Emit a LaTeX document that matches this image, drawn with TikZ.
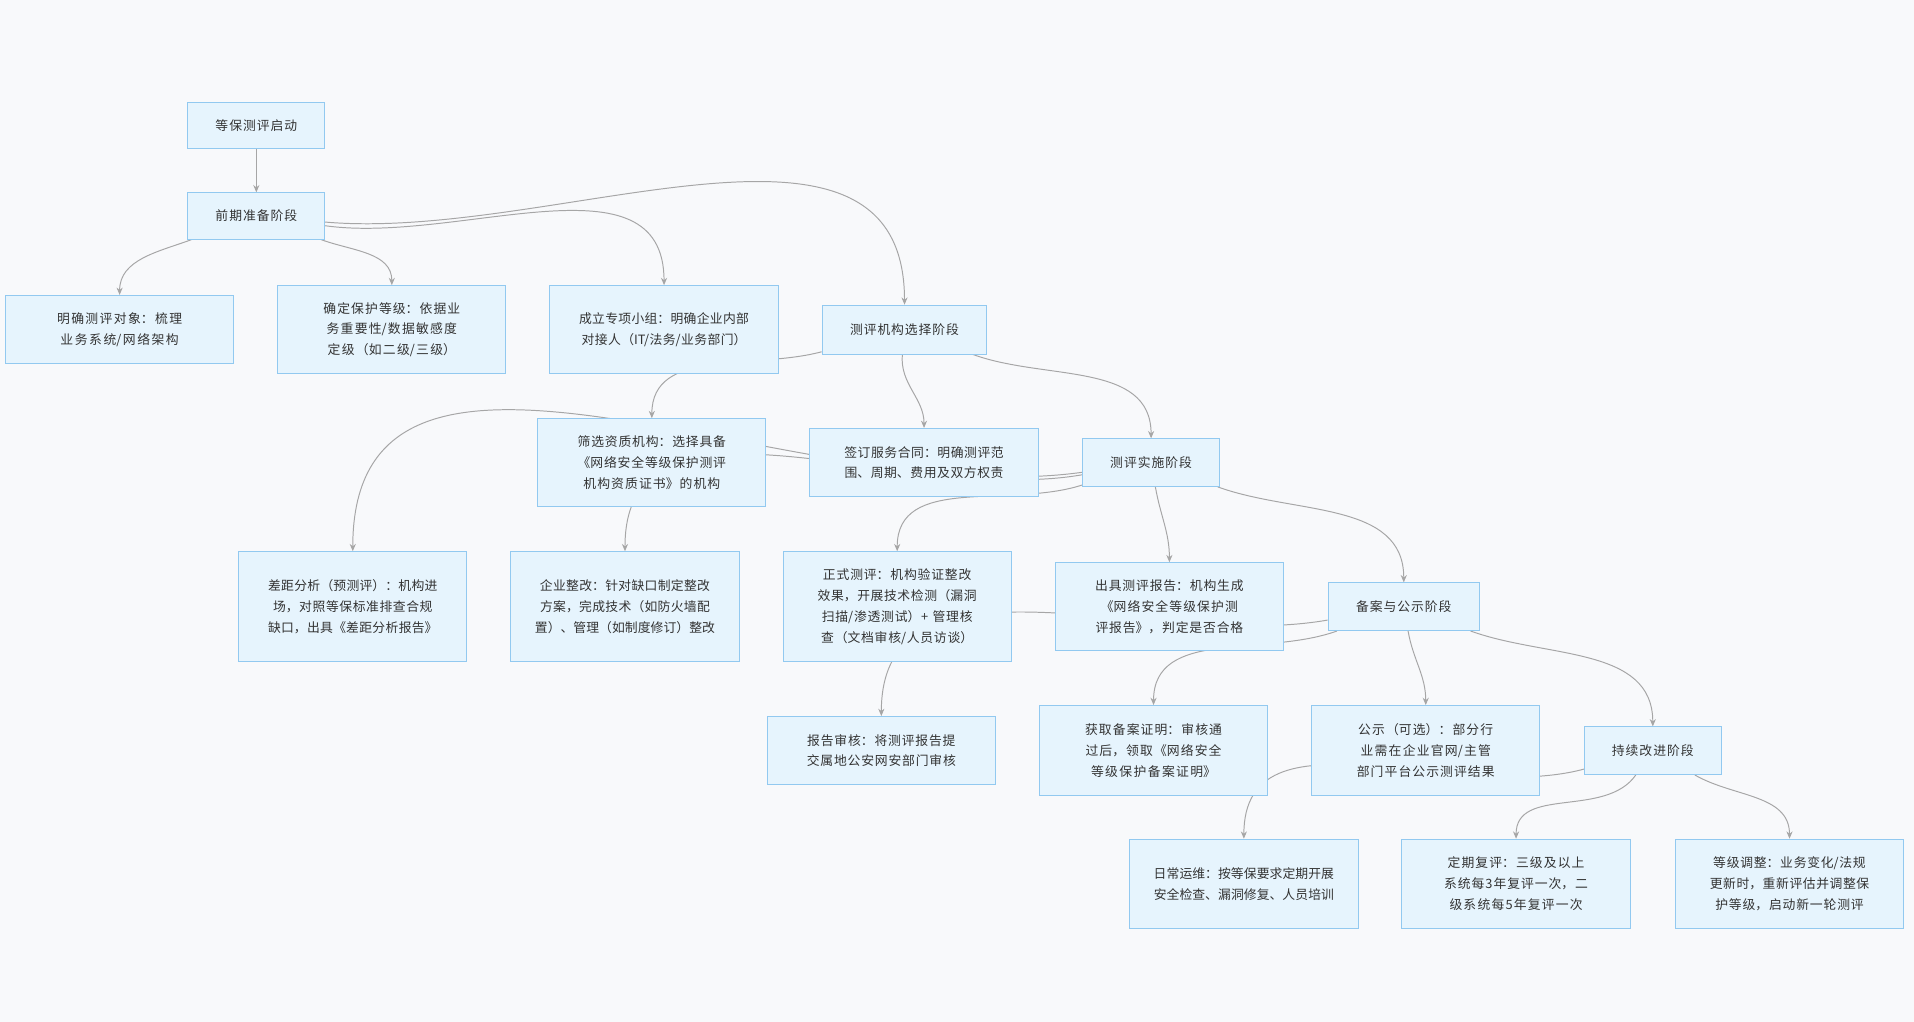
\documentclass[tikz,border=0pt]{standalone}
\usepackage{fontspec}
\setmainfont{Noto Sans CJK SC}
\XeTeXlinebreaklocale "zh"
\XeTeXlinebreakskip = 0pt plus 1pt
\usetikzlibrary{arrows.meta}
\pgfdeclarelayer{back}
\pgfdeclarelayer{bg}
\pgfsetlayers{back,bg,main}
\definecolor{bgc}{HTML}{F8F9FB}
\definecolor{boxf}{HTML}{E6F4FD}
\definecolor{boxd}{HTML}{92C9F0}
\definecolor{txt}{HTML}{333333}
\definecolor{edg}{HTML}{A6A6A6}
\tikzset{
 bx/.style={draw=boxd,fill=boxf,line width=0.8pt,text=txt,align=center,font=\fontsize{10.5}{17}\selectfont,inner sep=0pt},
 edge/.style={draw=edg,line width=0.8pt,-{Stealth[length=6pt,width=5pt]}}
}
\newcommand{\bn}[7]{\node[bx,minimum width=#4pt,minimum height=#5pt,text width=#6pt] (#1) at (#2pt,-#3pt) {#7};}
\begin{document}
\begin{tikzpicture}[x=1pt,y=1pt]
\begin{pgfonlayer}{back}
\fill[bgc] (0,0) rectangle (1568,-837);
\end{pgfonlayer}
\useasboundingbox (0,0) rectangle (1568,-837);
\bn{start}{210}{103}{112}{38}{100}{等保测评启动}
\bn{prep}{210}{177}{112}{38}{100}{前期准备阶段}
\bn{n1}{98}{270}{187}{56}{150}{明确测评对象：梳理业务系统/网络架构}
\bn{n2}{321}{270}{187}{72}{150}{确定保护等级：依据业务重要性/数据敏感度定级（如二级/三级）}
\bn{n3}{544}{270}{187}{72}{150}{成立专项小组：明确企业内部对接人（IT/法务/业务部门）}
\bn{sel}{741}{270}{135}{40}{120}{测评机构选择阶段}
\bn{s1}{534}{379}{187}{72}{150}{筛选资质机构：选择具备《网络安全等级保护测评机构资质证书》的机构}
\bn{s2}{757}{379}{187}{56}{150}{签订服务合同：明确测评范围、周期、费用及双方权责}
\bn{impl}{943}{379}{112}{39}{100}{测评实施阶段}
\bn{i1}{289}{497}{187}{90}{150}{差距分析（预测评）：机构进场，对照等保标准排查合规缺口，出具《差距分析报告》}
\bn{i2}{512}{497}{187}{90}{150}{企业整改：针对缺口制定整改方案，完成技术（如防火墙配置）、管理（如制度修订）整改}
\bn{i3}{735}{497}{187}{90}{150}{正式测评：机构验证整改效果，开展技术检测（漏洞扫描/渗透测试）+ 管理核查（文档审核/人员访谈）}
\bn{i4}{958}{497}{187}{72}{150}{出具测评报告：机构生成《网络安全等级保护测评报告》，判定是否合格}
\bn{rec}{1150}{497}{124}{39}{110}{备案与公示阶段}
\bn{r1}{722}{615}{187}{56}{150}{报告审核：将测评报告提交属地公安网安部门审核}
\bn{r2}{945}{615}{187}{74}{150}{获取备案证明：审核通过后，领取《网络安全等级保护备案证明》}
\bn{r3}{1168}{615}{187}{74}{150}{公示（可选）：部分行业需在企业官网/主管部门平台公示测评结果}
\bn{cont}{1354}{615}{112}{39}{100}{持续改进阶段}
\bn{c1}{1019}{724}{187}{73}{150}{日常运维：按等保要求定期开展安全检查、漏洞修复、人员培训}
\bn{c2}{1242}{724}{187}{73}{150}{定期复评：三级及以上系统每3年复评一次，二级系统每5年复评一次}
\bn{c3}{1466}{724}{187}{73}{150}{等级调整：业务变化/法规更新时，重新评估并调整保护等级，启动新一轮测评}
\begin{pgfonlayer}{bg}
\draw[edge] (start) -- (prep);
\draw[edge] (prep) to[out=200,in=90] (n1.north);
\draw[edge] (prep) to[out=-20,in=90] (n2.north);
\draw[edge] (prep) to[out=-8,in=90] (n3.north);
\draw[edge] (prep) to[out=-5,in=90] (sel.north);
\draw[edge] (sel) to[out=195,in=90] (s1.north);
\draw[edge] (sel) to[out=-95,in=90] (s2.north);
\draw[edge] (sel) to[out=-20,in=90] (impl.north);
\draw[edge] (impl) to[out=188,in=90] (i1.north);
\draw[edge] (impl) to[out=190,in=90] (i2.north);
\draw[edge] (impl) to[out=198,in=90] (i3.north);
\draw[edge] (impl) to[out=-80,in=90] (i4.north);
\draw[edge] (impl) to[out=-20,in=90] (rec.north);
\draw[edge] (rec) to[out=190,in=90] (r1.north);
\draw[edge] (rec) to[out=200,in=90] (r2.north);
\draw[edge] (rec) to[out=-80,in=90] (r3.north);
\draw[edge] (rec) to[out=-20,in=90] (cont.north);
\draw[edge] (cont) to[out=195,in=90] (c1.north);
\draw[edge] (cont) to[out=235,in=90] (c2.north);
\draw[edge] (cont) to[out=-30,in=90] (c3.north);
\end{pgfonlayer}
\end{tikzpicture}
\end{document}
